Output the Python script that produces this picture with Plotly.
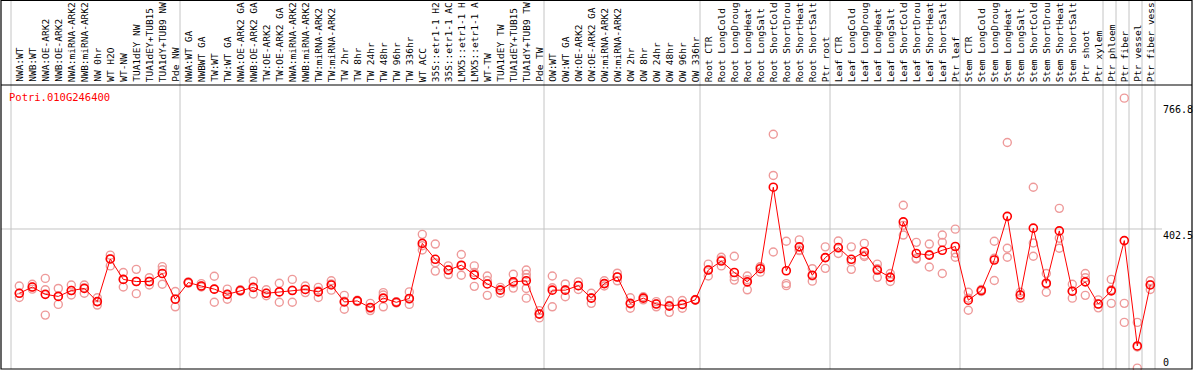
import plotly.graph_objects as go

# ---------------- data ----------------
title = "Potri.010G246400"

labels = [
    "NWA:WT", "NWB:WT", "NWA:OE-ARK2", "NWB:OE-ARK2", "NWA:miRNA-ARK2", "NWB:miRNA-ARK2",
    "NW 0hr", "WT H2O", "WT-NW", "TUA1dEY NW", "TUA1dEY+TUB15", "TUA1dY+TUB9 NW", "Pde NW",
    "NWA:WT GA", "NWBWT GA", "TW:WT", "TW:WT GA", "NWA:OE-ARK2 GA", "NWB:OE-ARK2 GA",
    "TW:OE-ARK2", "TW:OE-ARK2 GA", "NWA:miRNA-ARK2", "NWB:miRNA-ARK2", "TW:miRNA-ARK2",
    "TW:miRNA-ARK2", "TW 2hr", "TW 8hr", "TW 24hr", "TW 48hr", "TW 96hr", "TW 336hr",
    "WT ACC", "35S::etr1-1 H2", "35S::etr1-1 AC", "LMX5::etr1-1 H", "LMX5::etr1-1 A",
    "WT-TW", "TUA1dEY TW", "TUA1dEY+TUB15", "TUA1dY+TUB9 TW", "Pde TW",
    "OW:WT", "OW:WT GA", "OW:OE-ARK2", "OW:OE-ARK2 GA", "OW:miRNA-ARK2", "OW:miRNA-ARK2",
    "OW 2hr", "OW 8hr", "OW 24hr", "OW 48hr", "OW 96hr", "OW 336hr",
    "Root CTR", "Root LongCold", "Root LongDroug", "Root LongHeat", "Root LongSalt",
    "Root ShortCold", "Root ShortDrou", "Root ShortHeat", "Root ShortSalt", "Ptr root",
    "Leaf CTR", "Leaf LongCold", "Leaf LongDroug", "Leaf LongHeat", "Leaf LongSalt",
    "Leaf ShortCold", "Leaf ShortDrou", "Leaf ShortHeat", "Leaf ShortSalt", "Ptr leaf",
    "Stem CTR", "Stem LongCold", "Stem LongDroug", "Stem LongHeat", "Stem LongSalt",
    "Stem ShortCold", "Stem ShortDrou", "Stem ShortHeat", "Stem ShortSalt", "Ptr shoot",
    "Ptr xylem",
    "Ptr phloem", "Ptr fiber", "Ptr vessel", "Ptr fiber vess",
]

group_sizes = [13, 28, 12, 10, 10, 11, 1, 1, 1, 1]

means = [
    217, 235, 214, 208, 225, 231, 193, 316, 257, 251, 251, 274, 200,
    248, 238, 229, 214, 225, 234, 217, 221, 225, 228, 221, 241, 192, 195, 176, 203,
    191, 202, 361, 315, 284, 298, 270, 244, 226, 250, 253, 157,
    226, 226, 239, 203, 245, 264, 188, 203, 186, 180, 185, 198,
    284, 310, 277, 250, 288, 523, 282, 351, 269, 320,
    349, 315, 337, 284, 263, 423, 332, 327, 341, 352,
    197, 225, 313, 439, 212, 405, 246, 397, 223, 250, 186,
    224, 369, 65, 241,
]

replicates = [
    [238, 205, 217], [243, 229, 235], [260, 227, 154], [231, 208, 185], [241, 212, 225],
    [241, 217, 233], [204, 183, 193], [327, 296, 316], [277, 235, 257], [286, 216, 251],
    [262, 241, 251], [294, 243, 285], [222, 178, 200],
    [250, 246, 248], [245, 235, 238], [266, 191, 229], [229, 200, 214], [227, 223, 225],
    [252, 215, 234], [227, 210, 217], [246, 191, 221], [257, 191, 226], [238, 219, 228],
    [234, 205, 224], [253, 226, 244], [211, 171, 194], [197, 193, 195], [188, 167, 173],
    [219, 178, 212], [193, 189, 191], [221, 185, 200], [387, 342, 354], [359, 281, 305],
    [296, 271, 285], [329, 269, 296], [296, 237, 277], [267, 211, 254], [234, 217, 227],
    [272, 232, 246], [284, 272, 262, 231, 203], [167, 146, 158],
    [267, 178, 233], [244, 207, 227], [250, 228, 239], [217, 188, 204], [253, 238, 245],
    [275, 253, 264], [204, 174, 186], [207, 198, 204], [193, 178, 187], [196, 162, 182],
    [196, 174, 185], [199, 197, 198],
    [301, 267, 284], [321, 296, 313], [324, 265, 255], [267, 227, 256], [294, 278, 292],
    [676, 557, 336], [367, 245, 239], [371, 340, 342], [288, 252, 267], [351, 289, 320],
    [368, 332, 347], [351, 286, 308], [361, 323, 327], [301, 263, 288], [274, 251, 264],
    [471, 385, 413], [364, 316, 318], [359, 293, 329], [385, 274, 364], [402, 321, 333],
    [220, 168, 203], [228, 222, 225], [367, 254, 318], [652, 347, 321], [203, 220, 213],
    [523, 324, 362], [274, 220, 244], [462, 347, 376], [243, 203, 223], [274, 262, 211],
    [198, 175, 186],
    [257, 188, 227], [780, 188, 133], [133, 62, 1], [253, 228, 242],
]

right_ticks = [766.8, 402.5]
bottom_tick = 0

# ---------------- geometry (pixels) ----------------
W, H = 1194, 370
CELL = 13.0           # px per sample column
X_START = 11.0        # px of first column boundary
POINT_OFF = 8.3 / CELL
Y_ZERO_PX = 368.5     # px row of value 0
PX_PER_UNIT = 0.3466
PLOT_TOP, PLOT_BOTTOM = 85, 369
LEFT, RIGHT = 1, 1192

def px_x(p):
    return p / W

def px_y(p):
    return 1 - p / H

x_range = [(0 - X_START) / CELL, (W - X_START) / CELL]
y_range = [(Y_ZERO_PX - H) / PX_PER_UNIT, Y_ZERO_PX / PX_PER_UNIT]

xs = [i + POINT_OFF for i in range(len(labels))]

fig = go.Figure()

# replicates
rx, ry = [], []
for x, reps in zip(xs, replicates):
    for r in reps:
        rx.append(x)
        ry.append(r)
fig.add_trace(go.Scatter(
    x=rx, y=ry, mode="markers",
    marker=dict(symbol="circle-open", size=8, color="#ee9a9a", line=dict(width=1.4, color="#ee9a9a")),
    hoverinfo="skip", showlegend=False,
))

# means
fig.add_trace(go.Scatter(
    x=xs, y=means, mode="lines+markers",
    line=dict(color="#ff0000", width=1),
    marker=dict(symbol="circle-open", size=8, color="#ff0000", line=dict(width=1.6, color="#ff0000")),
    showlegend=False,
))

shapes = []
# vertical group boundaries
b = 0
bounds = [0]
for g in group_sizes:
    b += g
    bounds.append(b)
for k in bounds:
    shapes.append(dict(type="line", xref="x", yref="paper", x0=k, x1=k,
                       y0=px_y(PLOT_BOTTOM), y1=1, line=dict(color="#c4c4c4", width=1), layer="below"))
# horizontal gridline at the middle tick
shapes.append(dict(type="line", xref="paper", yref="y", x0=px_x(LEFT), x1=px_x(1162),
                   y0=right_ticks[1], y1=right_ticks[1], line=dict(color="#c4c4c4", width=1), layer="below"))
# frame + divider
shapes.append(dict(type="rect", xref="paper", yref="paper", x0=px_x(LEFT), x1=px_x(RIGHT),
                   y0=px_y(PLOT_BOTTOM), y1=px_y(0.5), line=dict(color="black", width=1.2)))
shapes.append(dict(type="line", xref="paper", yref="paper", x0=px_x(LEFT), x1=px_x(RIGHT),
                   y0=px_y(PLOT_TOP), y1=px_y(PLOT_TOP), line=dict(color="black", width=1.2)))

mono = "DejaVu Sans Mono"
annotations = []
for x, lab in zip(xs, labels):
    annotations.append(dict(x=x, y=px_y(83), xref="x", yref="paper", text=lab, showarrow=False,
                            textangle=-90, xanchor="center", yanchor="bottom",
                            font=dict(family=mono, size=9.5, color="black"), borderpad=0))
annotations.append(dict(x=px_x(8), y=px_y(90), xref="paper", yref="paper", text=title,
                        showarrow=False, xanchor="left", yanchor="top",
                        font=dict(family=mono, size=10.5, color="#ff0000"), borderpad=0))
for t in right_ticks:
    annotations.append(dict(x=px_x(1162), y=t, xref="paper", yref="y", text=str(t),
                            showarrow=False, xanchor="left", yanchor="top",
                            font=dict(family=mono, size=10, color="black"), borderpad=0))
annotations.append(dict(x=px_x(1162), y=bottom_tick, xref="paper", yref="y", text=str(bottom_tick),
                        showarrow=False, xanchor="left", yanchor="bottom",
                        font=dict(family=mono, size=10, color="black"), borderpad=0))

fig.update_layout(
    width=W, height=H,
    margin=dict(l=0, r=0, t=0, b=0),
    paper_bgcolor="white", plot_bgcolor="white",
    xaxis=dict(range=x_range, visible=False, domain=[0, 1], fixedrange=True),
    yaxis=dict(range=y_range, visible=False, domain=[0, 1], fixedrange=True),
    shapes=shapes,
    annotations=annotations,
    showlegend=False,
)

fig.write_html(
    "out.html",
    config={"displayModeBar": False},
    post_script="document.body.style.margin='0';document.body.style.overflow='hidden';",
)
